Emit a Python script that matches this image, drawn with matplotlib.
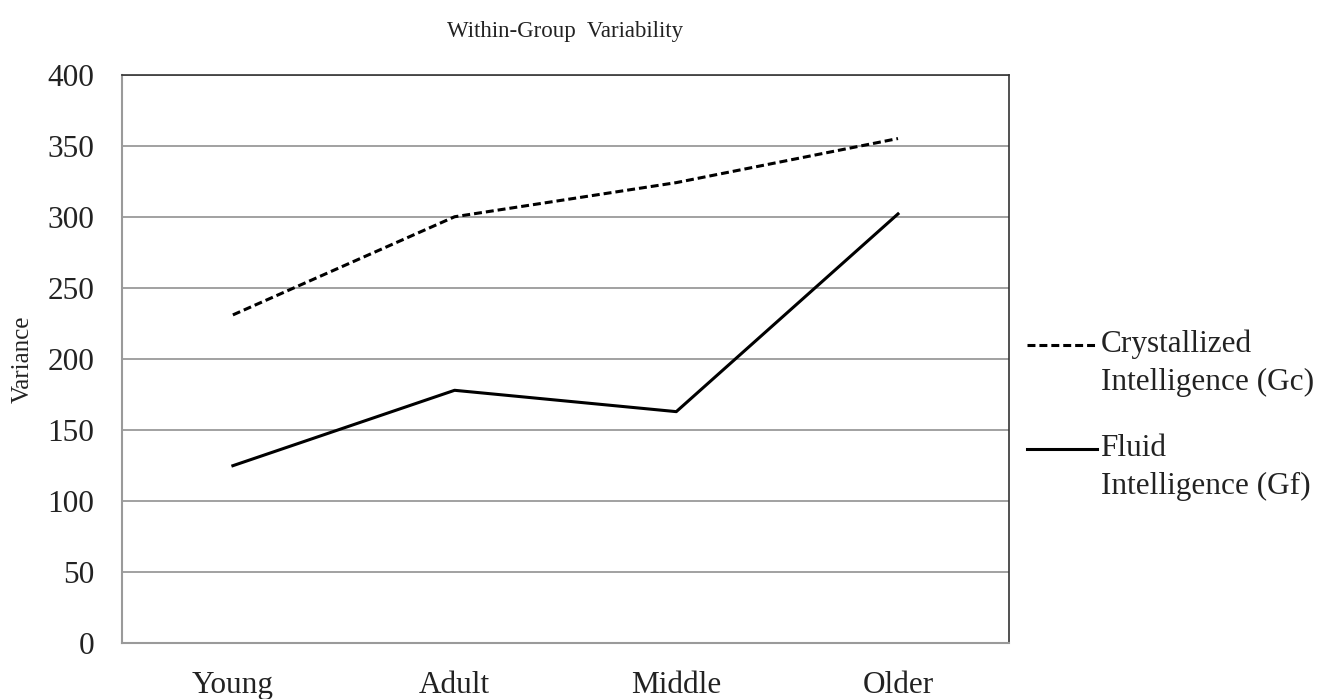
import matplotlib
matplotlib.use("Agg")
import matplotlib.pyplot as plt
import numpy as np

groups = ["Young", "Adult", "Middle", "Older"]
crystallized = [231, 300, 324, 355]
fluid = [125, 178, 163, 302]
yticks = [0, 50, 100, 150, 200, 250, 300, 350, 400]
labels = ["Crystallized\nIntelligence (Gc)", "Fluid\nIntelligence (Gf)"]

plt.rcParams['font.family'] = ['Liberation Serif', 'DejaVu Serif']

fig = plt.figure(figsize=(13.38, 6.99), dpi=100)
ax = fig.add_axes([0.0912, 0.0794, 0.6628, 0.814])

x = np.arange(len(groups)) + 0.5
l1, = ax.plot(x, crystallized, color="black", lw=2.2, dashes=(2.6, 1.3))
l2, = ax.plot(x, fluid, color="black", lw=2.2)

ax.set_xlim(0, len(groups))
ax.set_ylim(0, 400)
ax.set_yticks(yticks)
ax.set_xticks(x)
ax.set_xticklabels(groups)
ax.tick_params(axis="both", length=0, labelsize=22.5, colors="#222222")
ax.tick_params(axis="y", pad=20)
ax.tick_params(axis="x", pad=20)
ax.grid(axis="y", color="#9a9a9a", lw=1.3)
ax.set_axisbelow(True)
for s in ["left", "bottom"]:
    ax.spines[s].set_color("#9a9a9a")
    ax.spines[s].set_linewidth(1.5)
for s in ["top", "right"]:
    ax.spines[s].set_color("#333333")
    ax.spines[s].set_linewidth(1.2)

ax.set_ylabel("Variance", fontsize=18, labelpad=10, color="#222222")
fig.text(0.4226, 0.955, "Within-Group  Variability", fontsize=16.5, ha="center",
         va="center", color="#222222")

# legend drawn by hand so the handle sits next to the first line of each label
leg_y = [0.507, 0.358]
line_gap = 0.054
for line, lab, yy in zip([l1, l2], labels, leg_y):
    handle = plt.Line2D([0.7676, 0.8199], [yy, yy], transform=fig.transFigure,
                        color="black", lw=2.2)
    if line is l1:
        handle.set_dashes((2.6, 1.3))
    fig.add_artist(handle)
    for k, part in enumerate(lab.split("\n")):
        fig.text(0.8225, yy - k * line_gap, part, fontsize=22.5, ha="left",
                 va="center", color="#222222")

fig.savefig("out.png", dpi=100)
